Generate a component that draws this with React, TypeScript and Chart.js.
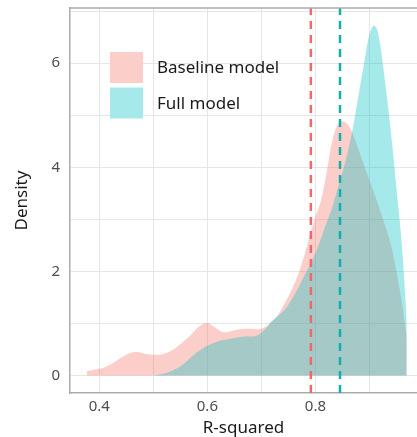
import { useEffect, useRef } from "react";
import { Chart, registerables } from "chart.js";

Chart.register(...registerables);

// ---- data ----
const seriesNames = ["Baseline model", "Full model"];

const baselineX = [
  0.377, 0.39, 0.4, 0.41, 0.42, 0.43, 0.44, 0.45, 0.46, 0.47, 0.48, 0.49, 0.5, 0.51, 0.52, 0.53, 0.54, 0.55,
  0.56, 0.57, 0.58, 0.59, 0.6, 0.61, 0.62, 0.63, 0.64, 0.65, 0.66, 0.67, 0.68, 0.69, 0.7, 0.71, 0.72, 0.73,
  0.74, 0.75, 0.76, 0.77, 0.78, 0.79, 0.8, 0.81, 0.82, 0.83, 0.84, 0.85, 0.86, 0.87, 0.88, 0.89, 0.9, 0.91,
  0.92, 0.93, 0.94, 0.95, 0.96, 0.969,
];
const baselineY = [
  0.08, 0.11, 0.13, 0.16, 0.21, 0.27, 0.34, 0.4, 0.44, 0.45, 0.43, 0.41, 0.4, 0.4, 0.42, 0.46, 0.52, 0.6,
  0.69, 0.79, 0.9, 0.98, 1.01, 0.95, 0.88, 0.83, 0.84, 0.87, 0.89, 0.9, 0.9, 0.89, 0.9, 0.95, 1.04, 1.15,
  1.33, 1.52, 1.74, 2.0, 2.33, 2.7, 3.05, 3.35, 3.85, 4.45, 4.8, 4.88, 4.82, 4.62, 4.33, 4.04, 3.75, 3.47,
  3.16, 2.85, 2.5, 2.0, 1.4, 0.75,
];

const fullX = [
  0.5, 0.51, 0.52, 0.53, 0.54, 0.55, 0.56, 0.57, 0.58, 0.59, 0.6, 0.61, 0.62, 0.63, 0.64, 0.65, 0.66, 0.67,
  0.68, 0.69, 0.7, 0.71, 0.72, 0.73, 0.74, 0.75, 0.76, 0.77, 0.78, 0.79, 0.8, 0.81, 0.82, 0.83, 0.84, 0.85,
  0.86, 0.87, 0.88, 0.89, 0.9, 0.908, 0.915, 0.92, 0.93, 0.94, 0.95, 0.96, 0.969,
];
const fullY = [
  0.0, 0.02, 0.04, 0.07, 0.12, 0.18, 0.26, 0.35, 0.44, 0.51, 0.57, 0.62, 0.66, 0.68, 0.7, 0.72, 0.74, 0.75,
  0.75, 0.76, 0.82, 0.92, 1.05, 1.14, 1.23, 1.36, 1.53, 1.72, 1.93, 2.13, 2.35, 2.62, 2.92, 3.2, 3.55, 3.9,
  4.3, 4.8, 5.4, 6.0, 6.55, 6.72, 6.62, 6.35, 5.55, 4.65, 3.6, 2.5, 1.1,
];

const meanBaseline = 0.7915;
const meanFull = 0.8455;

const xTicks = [0.4, 0.5, 0.6, 0.7, 0.8, 0.9];
const xTickLabels = ["0.4", "", "0.6", "", "0.8", ""];
const yTicks = [0, 1, 2, 3, 4, 5, 6, 7];
const yTickLabels = ["0", "", "2", "", "4", "", "6", ""];

const X_MIN = 0.3457;
const X_MAX = 0.988;
const Y_MIN = -0.336;
const Y_MAX = 7.06;

// ---- styles ----
const PINK_FILL = "rgba(248,118,109,0.36)";
const CYAN_FILL = "rgba(0,191,196,0.35)";
const PINK_LINE = "#F0696A";
const CYAN_LINE = "#14AEB1";
const BORDER = "#ababab";
const GRID = "#e6e6e6";
const FONT = "'Noto Sans', 'Open Sans', sans-serif";

const panelPlugin = {
  id: "panelTop",
  afterDraw(chart: any) {
    const { ctx, chartArea } = chart;
    ctx.save();
    ctx.strokeStyle = BORDER;
    ctx.lineWidth = 1.5;
    ctx.beginPath();
    ctx.moveTo(chartArea.left, chartArea.top);
    ctx.lineTo(chartArea.right, chartArea.top);
    ctx.stroke();
    ctx.restore();
  },
};

const boxLegendPlugin = {
  id: "boxLegend",
  afterDraw(chart: any) {
    const { ctx } = chart;
    const items = chart.data.datasets.filter((d: any) => d.inLegend);
    items.sort((a: any, b: any) => a.legendIndex - b.legendIndex);
    ctx.save();
    const bx = 110;
    const by = 52;
    const bw = 33;
    const bh = 31;
    const gap = 4.5;
    items.forEach((d: any, i: number) => {
      const y = by + i * (bh + gap);
      ctx.fillStyle = "#ffffff";
      ctx.fillRect(bx, y, bw, bh);
      ctx.fillStyle = d.backgroundColor;
      ctx.fillRect(bx, y, bw, bh);
      ctx.fillStyle = "#1a1a1a";
      ctx.font = `17px ${FONT}`;
      ctx.textBaseline = "middle";
      ctx.textAlign = "left";
      ctx.fillText(d.label, bx + 47, y + bh / 2 + 1);
    });
    ctx.restore();
  },
};

export default function App() {
  const canvasRef = useRef<HTMLCanvasElement | null>(null);

  useEffect(() => {
    if (!canvasRef.current) return;
    const baselinePts = baselineX.map((x, i) => ({ x, y: baselineY[i] }));
    const fullPts = fullX.map((x, i) => ({ x, y: fullY[i] }));

    const chart = new Chart(canvasRef.current, {
      type: "line",
      data: {
        datasets: [
          {
            label: seriesNames[0],
            data: baselinePts,
            backgroundColor: PINK_FILL,
            borderWidth: 0,
            pointRadius: 0,
            fill: "origin",
            cubicInterpolationMode: "monotone",
            order: 3,
            inLegend: true,
            legendIndex: 0,
          } as any,
          {
            label: seriesNames[1],
            data: fullPts,
            backgroundColor: CYAN_FILL,
            borderWidth: 0,
            pointRadius: 0,
            fill: "origin",
            cubicInterpolationMode: "monotone",
            order: 2,
            inLegend: true,
            legendIndex: 1,
          } as any,
          {
            label: "mean " + seriesNames[0],
            data: [
              { x: meanBaseline, y: Y_MIN },
              { x: meanBaseline, y: Y_MAX },
            ],
            borderColor: PINK_LINE,
            borderWidth: 2.5,
            borderDash: [8, 6],
            pointRadius: 0,
            fill: false,
            order: 1,
          },
          {
            label: "mean " + seriesNames[1],
            data: [
              { x: meanFull, y: Y_MIN },
              { x: meanFull, y: Y_MAX },
            ],
            borderColor: CYAN_LINE,
            borderWidth: 2.5,
            borderDash: [8, 6],
            pointRadius: 0,
            fill: false,
            order: 0,
          },
        ],
      },
      options: {
        animation: false,
        responsive: true,
        maintainAspectRatio: false,
        layout: { padding: { top: 8, right: 0, left: 0, bottom: 0 } },
        plugins: {
          legend: { display: false },
          tooltip: { enabled: false },
        },
        scales: {
          x: {
            type: "linear",
            min: X_MIN,
            max: X_MAX,
            afterBuildTicks: (scale: any) => {
              scale.ticks = xTicks.map((v) => ({ value: v }));
            },
            afterFit: (scale: any) => {
              scale.height = 44;
              scale.paddingLeft = 0;
              scale.paddingRight = 0;
            },
            ticks: {
              autoSkip: false,
              maxRotation: 0,
              padding: 5,
              color: "#4d4d4d",
              font: { family: FONT, size: 15 },
              callback: (v: any) => {
                const i = xTicks.findIndex((t) => Math.abs(t - Number(v)) < 1e-9);
                return i >= 0 ? xTickLabels[i] : "";
              },
            },
            grid: { color: GRID, lineWidth: 1, drawTicks: false },
            border: { display: true, color: BORDER, width: 1.5 },
            title: {
              display: true,
              text: "R-squared",
              color: "#1a1a1a",
              font: { family: FONT, size: 17, lineHeight: 1 },
              padding: { top: 0, bottom: 0 },
            },
          },
          y: {
            type: "linear",
            min: Y_MIN,
            max: Y_MAX,
            afterBuildTicks: (scale: any) => {
              scale.ticks = yTicks.map((v) => ({ value: v }));
            },
            afterFit: (scale: any) => {
              scale.width = 70;
              scale.paddingTop = 0;
              scale.paddingBottom = 0;
            },
            ticks: {
              autoSkip: false,
              padding: 10,
              color: "#4d4d4d",
              font: { family: FONT, size: 15 },
              callback: (v: any) => {
                const i = yTicks.findIndex((t) => Math.abs(t - Number(v)) < 1e-9);
                return i >= 0 ? yTickLabels[i] : "";
              },
            },
            grid: { color: GRID, lineWidth: 1, drawTicks: false },
            border: { display: true, color: BORDER, width: 1.5 },
            title: {
              display: true,
              text: "Density",
              color: "#1a1a1a",
              font: { family: FONT, size: 17, lineHeight: 1 },
              padding: { top: 13.5, bottom: 0 },
            },
          },
        },
      },
      plugins: [panelPlugin, boxLegendPlugin],
    });
    return () => chart.destroy();
  }, []);

  return (
    <div style={{ position: "absolute", left: 0, top: 0, width: 417, height: 437, background: "#fff" }}>
      <canvas ref={canvasRef} />
    </div>
  );
}
